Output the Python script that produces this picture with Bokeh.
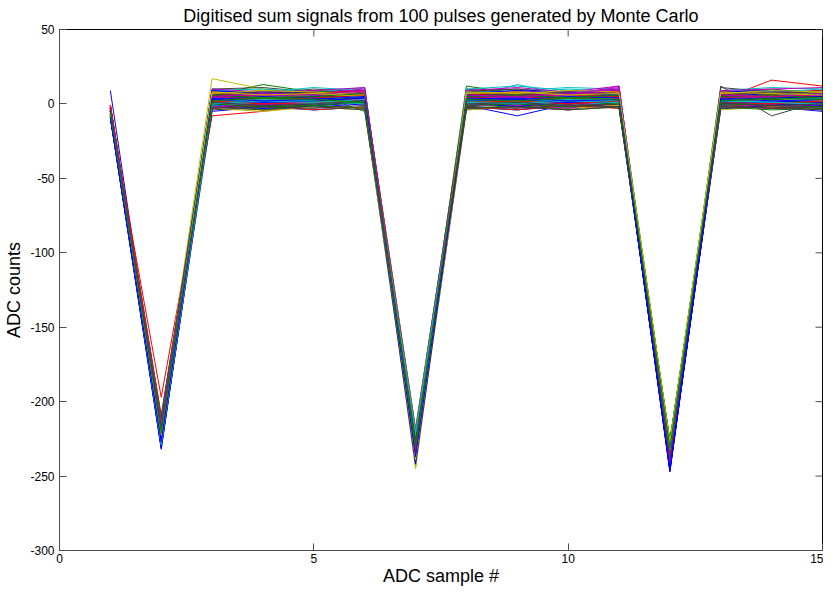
import math
from bokeh.plotting import figure
from bokeh.models import Range1d, FixedTicker, ColumnDataSource, NumeralTickFormatter
from bokeh.embed import file_html
from bokeh.resources import INLINE

title_text = "Digitised sum signals from 100 pulses generated by Monte Carlo"
x_label = "ADC sample #"
y_label = "ADC counts"

samples = list(range(1, 16))
x_ticks = [0, 5, 10, 15]
y_ticks = [-300, -250, -200, -150, -100, -50, 0, 50]
x_min, x_max = 0, 15
y_min, y_max = -300, 50

# MATLAB default colour order, cycled over the 100 pulses
color_order = ["#0000ff", "#008000", "#ff0000", "#00bfbf", "#bf00bf", "#bfbf00", "#404040"]

pulses = [
    [9, -221, 1, 3, 2, 0, -230, -1, -8, 0, 2, -247, 1, 3, 0],
    [-5, -216, 6, 13, 8, 5, -226, 12, 7, 5, 4, -231, 6, 4, 7],
    [-7, -197, -8, -5, -1, 2, -224, 1, 3, 0, 4, -229, 3, 16, 12],
    [-4, -223, 10, 5, 4, 3, -219, 4, 13, 6, 4, -233, 3, 5, -4],
    [-6, -218, 4, 2, 3, 11, -235, 2, 1, 5, 12, -238, 5, 1, 3],
    [-3, -212, 17, 10, 7, 6, -245, 8, 6, 5, 9, -226, 7, 9, 6],
    [-8, -225, 4, 6, 3, 2, -228, 6, 5, 9, 8, -236, 12, -8, 2],
    [-5, -229, -5, -2, -4, -2, -240, -4, -2, -3, 0, -244, -3, -2, -5],
    [-9, -219, 6, 4, 7, -5, -231, 4, 7, 5, -1, -232, 3, 4, 6],
    [-2, -231, 1, -4, 0, 2, -222, 3, 0, 2, 3, -230, 2, 0, 1],
    [-6, -214, 8, 7, 5, 9, -233, 4, 7, 10, 8, -239, 7, 6, 8],
    [-4, -222, -1, -2, 1, 3, -227, 0, 2, -1, 5, -235, -2, 1, -1],
    [-7, -217, 5, 3, 2, 1, -237, 5, 2, 4, 2, -228, 5, 3, 4],
    [-3, -226, 10, 11, 8, 9, -224, 9, 10, 7, 9, -241, 11, 8, 9],
    [-8, -220, -1, 1, 0, 2, -236, 1, -1, -2, 2, -245, 0, 1, -2],
    [-5, -213, 4, 5, 3, 1, -229, 5, 2, 4, 1, -231, 3, 5, 2],
    [-1, -224, 7, 5, 9, 8, -218, 5, 8, 6, 9, -234, 6, 7, 9],
    [-6, -217, -3, -1, -4, -2, -234, -2, -4, 0, -3, -227, -1, -3, -4],
    [-4, -228, 3, 1, 2, 6, -226, 1, 4, 0, 7, -240, 1, 3, 2],
    [-9, -215, 6, 4, 2, 3, -241, 5, 3, 6, 4, -229, 4, 3, 7],
    [-2, -222, 9, 7, 10, 8, -230, 10, 7, 8, 9, -237, 8, 10, 7],
    [-7, -230, 0, 2, 1, 3, -238, 2, 3, 1, 2, -243, 0, 2, 1],
    [-5, -211, 0, -2, 1, 2, -225, -1, 1, -2, 0, -226, -1, 0, 2],
    [-3, -219, 3, 6, 4, 5, -232, 6, 3, 5, 4, -238, 2, 5, 3],
    [-8, -226, 8, 6, 9, 5, -221, 6, 8, 7, 5, -232, 7, 9, 8],
    [-4, -214, 0, -1, 2, 3, -236, 1, -1, 1, 4, -230, 0, -2, 1],
    [-6, -223, 3, 5, 2, 1, -228, 2, 4, 3, 2, -242, 3, 4, 2],
    [-1, -217, -1, -3, 0, 1, -239, -2, 0, -3, -1, -228, 0, -2, 1],
    [-9, -227, 5, 7, 6, 4, -224, 7, 4, 5, 6, -246, 5, 4, 7],
    [-5, -216, 3, 1, 4, 2, -233, 2, 3, 0, 3, -233, 4, 2, 1],
    [-3, -221, 4, 7, 6, 6, -230, 5, 8, 6, 4, -236, 5, 7, 6],
    [-7, -213, 10, 8, 11, 9, -220, 8, 9, 11, 10, -229, 9, 8, 10],
    [-2, -225, -2, -4, -1, 1, -237, -3, -2, -4, 2, -239, -2, -3, -4],
    [-6, -218, 2, 0, 1, 3, -243, 1, 2, 0, 2, -231, 1, 3, 2],
    [-4, -229, 5, 3, 6, 4, -226, 6, 3, 5, 4, -234, 4, 3, 6],
    [-8, -223, 8, 6, 7, 9, -234, 6, 8, 7, 9, -241, 8, 7, 6],
    [-5, -209, 1, -1, 0, 2, -228, 0, 1, -1, 1, -227, -1, 1, 0],
    [-3, -226, -2, 0, -1, -3, -222, 1, -2, 0, -1, -237, 0, -2, -1],
    [-7, -216, 4, 2, 3, 5, -238, 3, 4, 2, 5, -233, 2, 4, 3],
    [-1, -220, 6, 8, 5, 9, -231, 7, 5, 8, 10, -244, 6, 7, 8],
    [-6, -228, 3, 1, 2, 2, -225, 1, 3, 2, 3, -230, 4, 2, 1],
    [-4, -214, 7, 9, 8, 6, -236, 8, 10, 7, 6, -236, 7, 9, 8],
    [-9, -232, -1, -3, -2, 0, -239, -2, -4, -1, -2, -242, -3, -1, -2],
    [-5, -219, 6, 4, 5, 7, -227, 4, 6, 5, 7, -228, 6, 4, 5],
    [-2, -212, 2, 0, 1, 3, -233, 1, 2, 0, 2, -235, 1, 2, 0],
    [-7, -224, 5, 3, 6, 4, -219, 4, 2, 5, 3, -231, 5, 3, 6],
    [-3, -217, 8, 6, 7, 10, -230, 6, 9, 7, 11, -239, 8, 7, 6],
    [-6, -227, -3, -5, -2, -4, -240, -4, -2, -3, -1, -227, -4, -2, -3],
    [-4, -220, 4, 2, 3, 1, -224, 3, 1, 4, 2, -234, 2, 4, 3],
    [-8, -215, 1, -1, 2, 0, -237, -1, 1, 0, 2, -246, 0, -1, 1],
    [-5, -225, 7, 5, 8, 6, -229, 6, 4, 7, 6, -230, 5, 7, 6],
    [-1, -218, 3, 2, 1, 3, -226, 2, 3, 1, 4, -237, 3, 1, 2],
    [-6, -211, 9, 10, 8, 11, -234, 10, 12, 9, 8, -232, 9, 11, 10],
    [-3, -229, -2, 0, -1, 2, -221, -1, 0, -3, 3, -240, -2, 0, -1],
    [-7, -222, 6, 4, 5, 3, -242, 4, 6, 5, 4, -229, 5, 3, 6],
    [-4, -216, 2, 4, 3, 1, -232, 3, 2, 4, 3, -235, 1, 3, 2],
    [-9, -228, 0, 2, -1, 1, -236, 1, 0, 2, 1, -244, 2, 0, -1],
    [-5, -213, 8, 7, 9, 6, -225, 7, 8, 6, 7, -228, 8, 6, 9],
    [-2, -223, -3, -1, -4, -2, -238, -2, -4, -1, -3, -236, -1, -3, -2],
    [-6, -219, 4, 6, 3, 5, -227, 5, 3, 6, 4, -231, 4, 5, 3],
    [-3, -226, 1, -1, 2, 4, -233, 0, 2, 1, 5, -241, 1, 0, 2],
    [-7, -214, 7, 5, 6, 8, -239, 6, 5, 7, 6, -230, 7, 5, 8],
    [-4, -221, 3, 1, 2, 4, -223, 2, 4, 1, 3, -238, 3, 2, 1],
    [-8, -230, 9, 7, 8, 6, -241, 7, 9, 8, 7, -243, 8, 9, 7],
    [-5, -217, -2, -4, -1, -3, -230, -3, -1, -4, -2, -229, -2, -4, -3],
    [-1, -210, 6, 4, 5, 7, -226, 5, 6, 4, 7, -235, 6, 5, 4],
    [-6, -225, 2, 4, 3, 1, -235, 3, 1, 4, 2, -233, 3, 2, 4],
    [-3, -218, 0, 2, 1, 4, -228, 1, -1, 2, 6, -240, 0, 2, 1],
    [-7, -227, 8, 6, 7, 5, -244, 6, 8, 7, 6, -231, 7, 6, 8],
    [-4, -215, 5, 3, 4, 6, -230, 4, 5, 3, 5, -237, 5, 4, 3],
    [-9, -222, 2, 0, 1, 3, -237, 1, -2, 2, 1, -245, 0, 2, 1],
    [-5, -220, 4, 6, 5, 3, -224, 6, 4, 5, 3, -227, 4, 6, 5],
    [-2, -229, 7, 5, 8, 6, -232, 6, 7, 5, 8, -238, 7, 5, 6],
    [-6, -213, -1, 1, 0, 2, -222, 0, 2, -1, 1, -230, -1, 1, 0],
    [-3, -224, 10, 8, 9, 11, -236, 9, 11, 8, 12, -242, 9, 10, 11],
    [-7, -218, 3, 5, 4, 2, -241, 4, 3, 5, 3, -228, 3, 4, 2],
    [-4, -226, -3, -1, -2, -4, -227, -2, -3, -1, -2, -236, -1, -3, -2],
    [-8, -216, 5, 7, 6, 4, -239, 6, 5, 7, 6, -246, 5, 7, 6],
    [-5, -223, 1, 3, 2, 0, -231, 2, 1, 3, 2, -232, 1, 3, 0],
    [-1, -214, 8, 6, 7, 9, -220, 7, 8, 6, 9, -234, 8, 7, 9],
    [-6, -228, 4, 2, 3, 5, -233, 3, 4, 2, 4, -229, 2, 4, 3],
    [-3, -219, -2, 0, 1, 3, -229, -1, 0, -2, 4, -241, 0, -1, -2],
    [-7, -221, 2, 4, 3, 1, -243, 3, 2, 4, 3, -230, 4, 2, 3],
    [-4, -212, 6, 8, 7, 5, -225, 7, 6, 8, 7, -239, 6, 8, 7],
    [-9, -231, 3, 1, 2, 4, -240, 2, 3, 1, 3, -243, 2, 1, 3],
    [-5, -217, 0, -2, -1, 1, -228, -1, 0, -2, 1, -226, 0, -1, -2],
    [-2, -224, 5, 3, 4, 6, -234, 4, 5, 3, 5, -237, 4, 6, 5],
    [-6, -215, 1, 3, 2, 0, -223, 2, 1, 3, 2, -231, 1, 2, 3],
    [-3, -227, 4, 6, 5, 8, -231, 5, 4, 6, 9, -242, 5, 4, 6],
    [-7, -220, 7, 9, 8, 6, -238, 8, 7, 9, 8, -229, 7, 9, 8],
    [-4, -216, -4, -2, -3, -1, -226, -3, -2, -4, -2, -235, -3, -2, -4],
    [-8, -225, 3, 5, 4, 2, -242, 4, 3, 5, 4, -247, 3, 4, 5],
    [-5, -212, 6, 4, 5, 7, -227, 5, 6, 4, 6, -228, 5, 6, 4],
    [-1, -222, 2, 0, 1, 3, -235, 1, 2, 0, 2, -236, 1, 0, 2],
    [-6, -229, 0, 2, 1, 3, -221, 1, 0, 2, 1, -232, 2, 1, 0],
    [-3, -214, 5, 7, 6, 9, -232, 6, 5, 7, 10, -240, 6, 5, 7],
    [-7, -223, 8, 6, 7, 5, -239, 7, 8, 6, 7, -227, 8, 7, 6],
    [-4, -218, 1, -1, 0, 2, -229, 0, 1, -1, 0, -238, 1, -1, 0],
    [-9, -227, 4, 2, 3, 5, -237, 3, 4, 2, 3, -245, 4, 2, 3],
    [-5, -221, 2, 4, 3, 1, -230, 3, 2, 4, 3, -231, 2, 4, 3],
]

FONT = "Liberation Sans"
AX = "#4d4d4d"

p = figure(
    width=823, height=588,
    x_range=Range1d(x_min, x_max), y_range=Range1d(y_min, y_max),
    output_backend="svg", toolbar_location=None,
    min_border_left=59, min_border_right=1, min_border_top=28, min_border_bottom=30,
    background_fill_color="white", border_fill_color="white",
)

p.title.text = title_text
p.title.text_font = FONT
p.title.text_font_size = "18px"
p.title.text_font_style = "normal"
p.title.align = "center"
p.title.standoff = 7
p.title.text_color = "black"

p.xgrid.visible = False
p.ygrid.visible = False
p.outline_line_color = "black"
p.outline_line_width = 1

src = ColumnDataSource(dict(
    xs=[samples for _ in pulses],
    ys=pulses,
    color=[color_order[i % len(color_order)] for i in range(len(pulses))],
))
p.multi_line("xs", "ys", source=src, line_color="color", line_width=1)

for ax, ticks in ((p.xaxis[0], x_ticks), (p.yaxis[0], y_ticks)):
    ax.ticker = FixedTicker(ticks=ticks)
    ax.formatter = NumeralTickFormatter(format="0")
    ax.axis_line_color = AX
    ax.major_tick_line_color = AX
    ax.major_tick_in = 7
    ax.major_tick_out = 0
    ax.minor_tick_line_color = None
    ax.major_label_text_font = FONT
    ax.major_label_text_font_size = "12px"
    ax.major_label_text_color = "black"
    ax.axis_label_text_font = FONT
    ax.axis_label_text_font_size = "18px"
    ax.axis_label_text_font_style = "normal"
    ax.axis_label_text_color = "black"

p.xaxis[0].axis_label = x_label
p.xaxis[0].major_label_standoff = 3
p.xaxis[0].axis_label_standoff = 0
p.yaxis[0].axis_label = y_label
p.yaxis[0].major_label_standoff = 5
p.yaxis[0].axis_label_standoff = 3

# mirrored inward ticks on the top and right edges of the box
p.ray(x=x_ticks, y=[y_max] * len(x_ticks), length=7, length_units="screen",
      angle=-math.pi / 2, line_color=AX, line_width=1)
p.ray(x=[x_max] * len(y_ticks), y=y_ticks, length=7, length_units="screen",
      angle=math.pi, line_color=AX, line_width=1)

open("out.html", "w").write(file_html(p, INLINE))
